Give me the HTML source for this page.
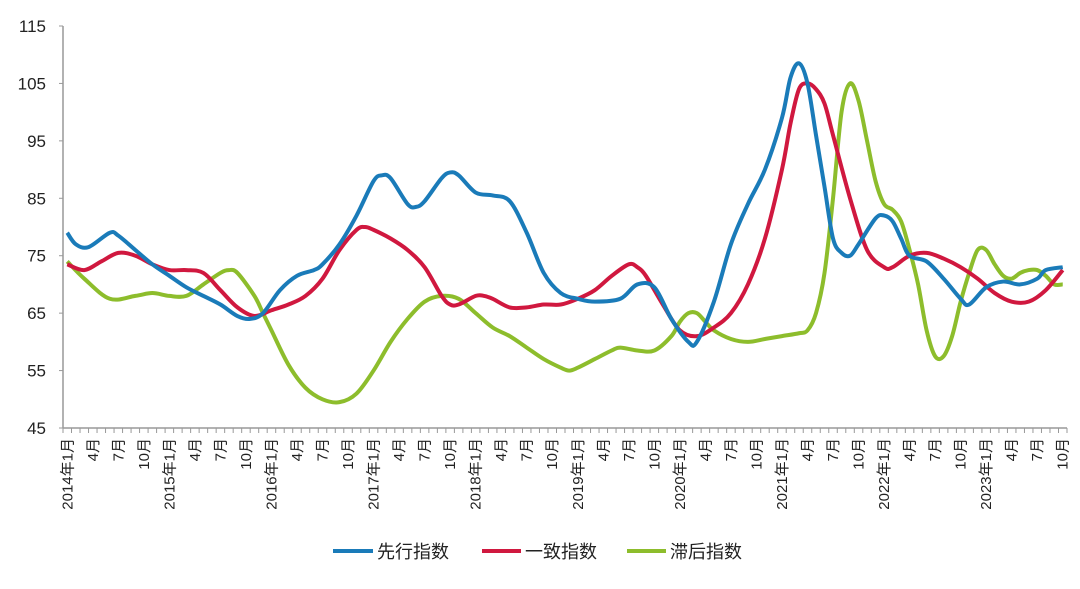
<!DOCTYPE html>
<html><head><meta charset="utf-8">
<style>
body{margin:0;background:#fff;}
svg text{font-family:"Liberation Sans","Noto Sans CJK SC",sans-serif;fill:#222;}
</style></head>
<body>
<svg id="chart" width="1080" height="584" viewBox="0 0 1080 584" xmlns="http://www.w3.org/2000/svg">
<g id="axes"></g>
<g id="series"></g>
<g id="legend">
  <g><line x1="333" y1="551" x2="373" y2="551" stroke="#1a7bb9" stroke-width="4"/><text x="377" y="558" font-size="18">先行指数</text></g>
  <g><line x1="482" y1="551" x2="521" y2="551" stroke="#d0183f" stroke-width="4"/><text x="525" y="558" font-size="18">一致指数</text></g>
  <g><line x1="627" y1="551" x2="666" y2="551" stroke="#8dbd2c" stroke-width="4"/><text x="670" y="558" font-size="18">滞后指数</text></g>
</g>
</svg>
<script>
const yTicks=[45,55,65,75,85,95,105,115];
const leadMonths=[0,1,2.5,5,6,8,10,12,14,16,18,20,21.5,23,25,27,29,30,32,34,36,37,38,40,41,42,44,45,46,48,50,52,54,56,58,60,62,65,67,69,71,73,74,76,78,80,82,84,85,86,87,88,89,90,91,92,93,95,96,97,98,99,101,103,105,106,108,110,112,114,115,117];
const leadValues=[79,77,76.5,79,78.5,76,73.5,71.5,69.5,68,66.5,64.5,64,65,69,71.5,72.5,73.5,77,82,88,89,88.5,84,83.5,84.5,88.5,89.5,89,86,85.5,84.5,79,72,68.5,67.5,67,67.5,70,69.5,64,60,60,67,77,84,90,99,106,108.5,105,96,87,78,75.5,75,77,81.5,82,81,78,75,74,71,67.5,66.5,69.5,70.5,70,71,72.5,73];
const coinMonths=[0,2,4,6,8,10,12,14,16,18,20,22,24,26,28,30,32,34,35,36,38,40,42,44,45,46,48,49,50,52,54,56,58,60,62,64,66,67,68,70,72,74,76,78,80,82,84,85,86,87,88,89,90,92,94,96,97,99,101,103,105,107,109,111,113,115,117];
const coinValues=[73.5,72.5,74,75.5,75,73.5,72.5,72.5,72,69,66,64.5,65.5,66.5,68,71,76,79.5,80,79.5,78,76,73,68,66.5,66.5,68,68,67.5,66,66,66.5,66.5,67.5,69,71.5,73.5,73,71.5,66.5,62,61,62.5,65,70,78,90,98,104,105,104,101.5,96,85,76,73,73,75,75.5,74.5,73,71,68.5,67,67,69,72.5];
const lagMonths=[0,2,5,8,10,12,14,16,18,19,20,22,23,24,26,28,30,32,34,36,38,40,42,44,46,48,50,52,54,56,58,59,60,62,64,65,67,69,71,72,73,74,75,76,78,80,82,84,86,87,88,89,90,91,92,93,94,95,96,97,98,99,100,101,102,103,104,105,106,107,108,109,110,111,112,113,114,115,116,117];
const lagValues=[74,71,67.5,68,68.5,68,68,70,72,72.5,72,68,65,62,56,52,50,49.5,51,55,60,64,67,68,67.5,65,62.5,61,59,57,55.5,55,55.5,57,58.5,59,58.5,58.5,61,63.5,65,65,63.5,62,60.5,60,60.5,61,61.5,62,65,72,85,100,105,102,95,88,84,83,81,76,70,62,57.5,57.5,61,67,72,76,76,73.5,71.5,71,72,72.5,72.5,71.5,70,70];
const yearLabels=["2014年1月","2015年1月","2016年1月","2017年1月","2018年1月","2019年1月","2020年1月","2021年1月","2022年1月","2023年1月"];
const monthLabels=["4月","7月","10月"];

const NS="http://www.w3.org/2000/svg";
const X0=63,X1=1067,NM=118,Y0=428,Y1=26;
const xScale=m=>X0+(m+0.5)*(X1-X0)/NM;
const yScale=v=>Y0-(v-45)/(115-45)*(Y0-Y1);
function mk(tag,attrs,parent){const e=document.createElementNS(NS,tag);for(const k in attrs)e.setAttribute(k,attrs[k]);parent.appendChild(e);return e;}
const axes=document.getElementById('axes');
let e=mk('line',{x1:X0,y1:Y1,x2:X0,y2:Y0,stroke:'#999','stroke-width':1.5},axes);


e=mk('line',{x1:X0,y1:Y0,x2:X1,y2:Y0,stroke:'#999','stroke-width':1.5},axes);


yTicks.forEach(v=>{
  const t=mk('text',{x:46,y:yScale(v)+6,'text-anchor':'end','font-size':17},axes);
  t.textContent=v;
  
  
  const tk=mk('line',{x1:X0-4,y1:yScale(v),x2:X0,y2:yScale(v),stroke:'#999'},axes);
  
  
});
for(let i=0;i<=NM;i++){
  const x=X0+i*(X1-X0)/NM;
  const tk=mk('line',{x1:x,y1:Y0,x2:x,y2:Y0+5,stroke:'#999'},axes);
  
  
}
for(let m=0;m<NM;m+=3){
  const lbl=(m%12===0)?yearLabels[m/12]:monthLabels[(m%12)/3-1];
  const x=xScale(m)+5,y=Y0+10;
  const t=mk('text',{x:x,y:y,'text-anchor':'end','font-size':15,transform:`rotate(-90 ${x} ${y})`},axes);
  t.textContent=lbl;
  
  
}
function path(ms,vs){
  const p=ms.map((m,i)=>[xScale(m),yScale(vs[i])]);
  let d=`M${p[0][0]},${p[0][1]}`;
  for(let i=0;i<p.length-1;i++){
    const p0=p[i-1]||p[i],p1=p[i],p2=p[i+1],p3=p[i+2]||p2;
    const c1=[p1[0]+(p2[0]-p0[0])/6,p1[1]+(p2[1]-p0[1])/6];
    const c2=[p2[0]-(p3[0]-p1[0])/6,p2[1]-(p3[1]-p1[1])/6];
    d+=` C${c1[0]},${c1[1]} ${c2[0]},${c2[1]} ${p2[0]},${p2[1]}`;
  }
  return d;
}
const sg=document.getElementById('series');
let s=mk('path',{d:path(lagMonths,lagValues),fill:'none',stroke:'#8dbd2c','stroke-width':4,'stroke-linejoin':'round'},sg);


s=mk('path',{d:path(coinMonths,coinValues),fill:'none',stroke:'#d0183f','stroke-width':4,'stroke-linejoin':'round'},sg);


s=mk('path',{d:path(leadMonths,leadValues),fill:'none',stroke:'#1a7bb9','stroke-width':4,'stroke-linejoin':'round'},sg);


</script>
</body></html>
